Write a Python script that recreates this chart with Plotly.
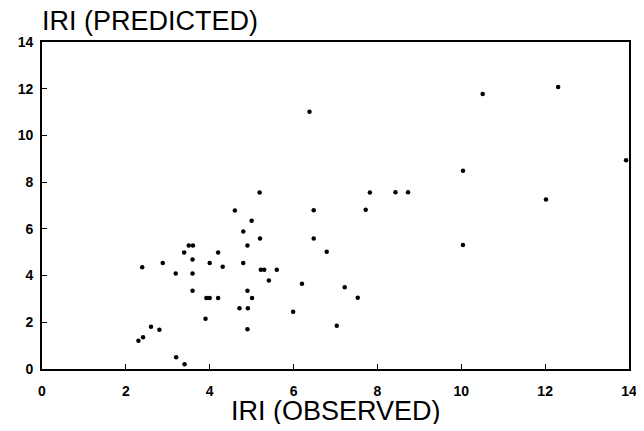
import plotly.graph_objects as go

observed = [2.30, 2.41, 2.39, 2.60, 2.80, 2.88, 3.19, 3.20, 3.39, 3.40,
            3.50, 3.60, 3.59, 3.59, 3.59, 3.90, 3.92, 4.00, 4.00, 4.20,
            4.20, 4.31, 4.60, 4.71, 4.80, 4.80, 4.90, 4.90, 4.91, 4.90,
            5.00, 5.01, 5.19, 5.20, 5.22, 5.30, 5.41, 5.60, 5.99, 6.20,
            6.38, 6.48, 6.48, 6.79, 7.03, 7.22, 7.53, 7.72, 7.82, 8.43,
            8.73, 10.04, 10.04, 10.51, 12.02, 12.31, 13.93]
predicted = [1.21, 1.36, 4.36, 1.81, 1.68, 4.54, 4.09, 0.50, 4.99, 0.20,
             5.29, 5.29, 4.69, 4.09, 3.35, 2.15, 3.04, 3.04, 4.54, 4.99,
             3.04, 4.38, 6.79, 2.60, 5.89, 4.54, 5.29, 3.35, 2.60, 1.70,
             6.35, 3.04, 7.56, 5.59, 4.25, 4.25, 3.79, 4.25, 2.45, 3.65,
             11.01, 6.80, 5.59, 5.02, 1.85, 3.50, 3.05, 6.82, 7.56, 7.57,
             7.57, 8.49, 5.31, 11.77, 7.26, 12.07, 8.94]

tick_vals = [0, 2, 4, 6, 8, 10, 12, 14]
tick_text = ["0", "2", "4", "6", "8", "10", "12", "14"]

FONT = "Liberation Sans, Arial, sans-serif"

fig = go.Figure()
fig.add_trace(go.Scatter(
    x=observed, y=predicted, mode="markers",
    marker=dict(color="black", size=4.5, symbol="circle"),
    showlegend=False, hoverinfo="x+y",
))

axis_common = dict(
    range=[0, 14], tickvals=tick_vals, ticktext=tick_text,
    showgrid=False, zeroline=False, showline=True, linecolor="black",
    linewidth=1.6, mirror=True, ticks="inside", ticklen=5, tickwidth=1,
    tickcolor="black", automargin=False,
    tickfont=dict(family=FONT, size=14, color="black", weight="bold"),
)
fig.update_xaxes(**axis_common, ticklabelstandoff=8)
fig.update_yaxes(**axis_common, ticklabelstandoff=4)

# page body has an 8px default margin; sizes compensate for it
fig.update_layout(
    width=630, height=416,
    margin=dict(l=34, r=9, t=34, b=55),
    paper_bgcolor="white", plot_bgcolor="white",
    annotations=[
        dict(text="IRI (PREDICTED)", xref="paper", yref="paper",
             x=-0.0034, y=1.0627, xanchor="left", yanchor="middle",
             showarrow=False,
             font=dict(family=FONT, size=27, color="black")),
        dict(text="IRI (OBSERVED)", xref="paper", yref="paper",
             x=0.5, y=-0.128, xanchor="center", yanchor="middle",
             showarrow=False,
             font=dict(family=FONT, size=27, color="black")),
    ],
)

fig.write_html("out.html")
